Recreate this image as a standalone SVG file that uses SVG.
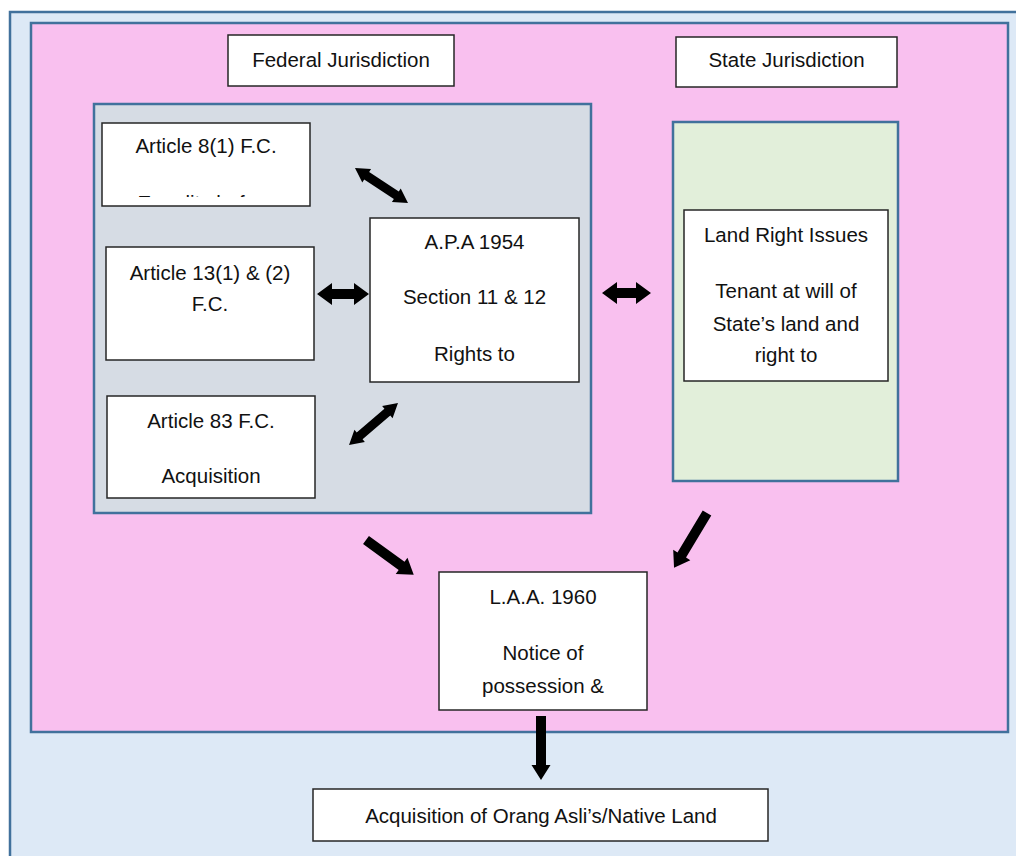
<svg xmlns="http://www.w3.org/2000/svg" width="1016" height="856" viewBox="0 0 1016 856">
<style>
.frame{stroke:#41719c;stroke-width:2.5}
.box{fill:#ffffff;stroke:#262626;stroke-width:1.5}
.t{font-family:"Liberation Sans",Arial,sans-serif;font-size:20.5px;fill:#111;text-anchor:middle}
.arr{fill:#000}
</style>
<defs>
<clipPath id="clip8"><rect x="103" y="124" width="206" height="73"/></clipPath>
</defs>
<rect width="1016" height="856" fill="#ffffff"/>
<g id="outer-frame"><rect class="frame" x="10" y="12" width="1020" height="860" fill="#dde9f6"/></g>
<g id="jurisdiction-area"><rect class="frame" x="31" y="23" width="977" height="709" fill="#f9c0ef"/></g>
<g id="federal-container"><rect class="frame" x="94" y="104" width="497" height="409" fill="#d6dce4"/></g>
<g id="state-container"><rect class="frame" x="673" y="122" width="225" height="359" fill="#e2efda"/></g>

<g id="federal-jurisdiction"><rect class="box" x="228" y="35" width="226" height="51"/><text class="t" x="341" y="67">Federal Jurisdiction</text></g>
<g id="state-jurisdiction"><rect class="box" x="676" y="37" width="221" height="50"/><text class="t" x="786.5" y="67">State Jurisdiction</text></g>

<g id="article-8"><rect class="box" x="102" y="123" width="208" height="83"/><text class="t" x="206" y="153">Article 8(1) F.C.</text><g clip-path="url(#clip8)"><text class="t" x="206" y="210">Equality before</text></g></g>
<g id="article-13"><rect class="box" x="106" y="247" width="208" height="113"/><text class="t" x="210" y="280">Article 13(1) &amp; (2)</text><text class="t" x="210" y="311">F.C.</text></g>
<g id="article-83"><rect class="box" x="107" y="396" width="208" height="102"/><text class="t" x="211" y="428">Article 83 F.C.</text><text class="t" x="211" y="483">Acquisition</text></g>
<g id="apa-1954"><rect class="box" x="370" y="218" width="209" height="164"/><text class="t" x="474.5" y="249">A.P.A 1954</text><text class="t" x="474.5" y="304">Section 11 &amp; 12</text><text class="t" x="474.5" y="361">Rights to</text></g>
<g id="land-right-issues"><rect class="box" x="684" y="210" width="204" height="171"/><text class="t" x="786" y="242">Land Right Issues</text><text class="t" x="786" y="298">Tenant at will of</text><text class="t" x="786" y="331">State’s land and</text><text class="t" x="786" y="362">right to</text></g>
<g id="laa-1960"><rect class="box" x="439" y="572" width="208" height="138"/><text class="t" x="543" y="604">L.A.A. 1960</text><text class="t" x="543" y="660">Notice of</text><text class="t" x="543" y="693">possession &amp;</text></g>
<g id="acquisition"><rect class="box" x="313" y="789" width="455" height="52"/><text class="t" x="541" y="823">Acquisition of Orang Asli’s/Native Land</text></g>

<g id="connectors" class="arr">
<polygon points="317,294 332,283 332,289 354,289 354,283 369,294 354,305 354,299 332,299 332,305"/>
<polygon points="602,293 617,282 617,288 636,288 636,282 651,293 636,304 636,298 617,298 617,304"/>
<polygon transform="translate(381.5,185.5) rotate(33.4)" points="-31.75,0 -17.75,-8 -17.75,-4.5 17.75,-4.5 17.75,-8 31.75,0 17.75,8 17.75,4.5 -17.75,4.5 -17.75,8"/>
<polygon transform="translate(373.5,424) rotate(-40.6)" points="-32.25,0 -18.25,-8 -18.25,-4.5 18.25,-4.5 18.25,-8 32.25,0 18.25,8 18.25,4.5 -18.25,4.5 -18.25,8"/>
<polygon transform="translate(366,540) rotate(36)" points="0,-5 44,-5 44,-10 59,0 44,10 44,5 0,5"/>
<polygon transform="translate(707,513) rotate(121)" points="0,-5 49,-5 49,-10 64,0 49,10 49,5 0,5"/>
<polygon points="536,716 546,716 546,765 550.5,765 541,780 531.5,765 536,765"/>
</g>
</svg>
